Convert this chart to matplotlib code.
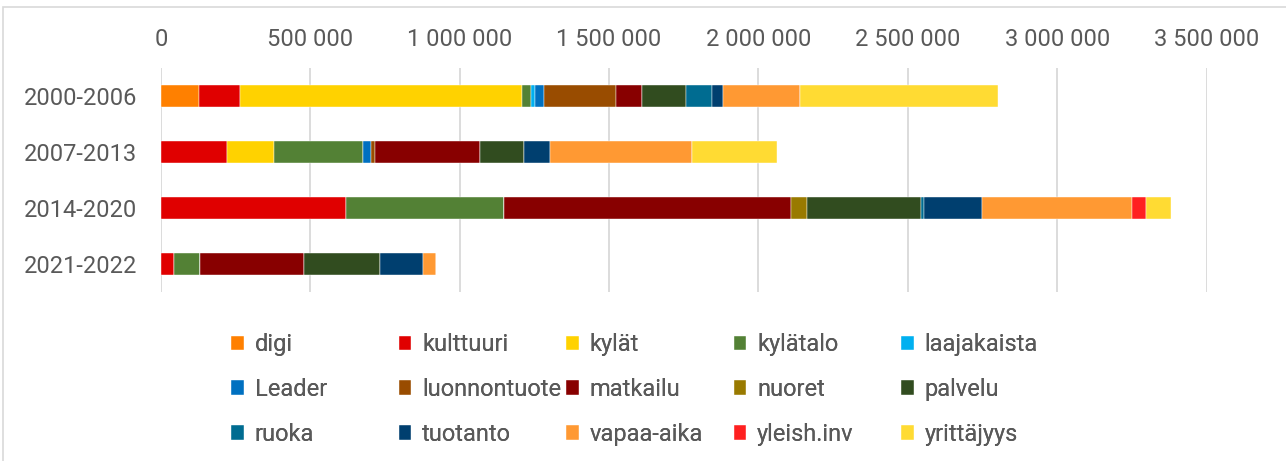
import matplotlib
matplotlib.use("Agg")
import matplotlib.pyplot as plt
from matplotlib.patches import Rectangle
from matplotlib.ticker import FuncFormatter
import numpy as np

plt.rcParams['font.family'] = ['Roboto', 'DejaVu Sans']

periods = ["2000-2006", "2007-2013", "2014-2020", "2021-2022"]
categories = ["digi", "kulttuuri", "kylät", "kylätalo", "laajakaista",
              "Leader", "luonnontuote", "matkailu", "nuoret", "palvelu",
              "ruoka", "tuotanto", "vapaa-aika", "yleish.inv", "yrittäjyys"]
colors = ["#FF8000", "#E00000", "#FFD200", "#538135", "#00B0F0",
          "#0070C0", "#994C00", "#880000", "#997A00", "#314C1F",
          "#006C91", "#003F6F", "#FF9933", "#FF2020", "#FFDB33"]

# values per category, one entry per period
digi =         [128200,      0,      0,      0]
kulttuuri =    [135300, 221000, 619300,  44500]
kylat =        [946100, 157300,      0,      0]
kylatalo =     [ 28100, 298000, 529600,  85000]
laajakaista =  [ 15400,      0,      0,      0]
leader =       [ 28100,  26800,      0,      0]
luonnontuote = [243100,  12400,      0,      0]
matkailu =     [ 87000, 353500, 959800, 349200]
nuoret =       [     0,      0,  53600,      0]
palvelu =      [147300, 147300, 383300, 255400]
ruoka =        [ 85000,      0,   7400,      0]
tuotanto =     [ 36800,  87000, 195800, 143000]
vapaa_aika =   [258800, 473400, 502500,  42500]
yleish_inv =   [     0,      0,  44900,      0]
yrittajyys =   [662900, 285600,  83700,      0]

series = [digi, kulttuuri, kylat, kylatalo, laajakaista, leader, luonnontuote,
          matkailu, nuoret, palvelu, ruoka, tuotanto, vapaa_aika, yleish_inv,
          yrittajyys]

xticks = [0, 500000, 1000000, 1500000, 2000000, 2500000, 3000000, 3500000]

W, H = 1286, 461
fig = plt.figure(figsize=(W / 100, H / 100), dpi=100)
fig.patches.append(Rectangle((3 / W, -0.1), 2, 1.1 - 7 / H, transform=fig.transFigure,
                             fill=False, edgecolor="#D9D9D9", linewidth=1.2))

ax = fig.add_axes([161 / W, 1 - 292 / H, (1206.6 - 161) / W, (292 - 68) / H])
y = np.arange(len(periods))
left = np.zeros(len(periods))
handles = []
for name, vals, col in zip(categories, series, colors):
    vals = np.array(vals, dtype=float)
    b = ax.barh(y, vals, left=left, height=0.41, color=col, label=name,
                edgecolor="white", linewidth=0.3, zorder=3)
    handles.append(b)
    left += vals

ax.set_xlim(0, 3500000)
ax.set_ylim(3.5, -0.5)
ax.set_yticks(y)
ax.set_yticklabels(periods)
ax.set_xticks(xticks)
ax.xaxis.set_major_formatter(FuncFormatter(lambda v, p: f"{int(v):,}".replace(",", " ")))
ax.xaxis.tick_top()
ax.tick_params(axis="x", length=0, pad=12, labelsize=17, labelcolor="#595959")
ax.tick_params(axis="y", length=0, pad=17, labelsize=17, labelcolor="#595959")
for s in ax.spines.values():
    s.set_visible(False)
ax.grid(axis="x", color="#D9D9D9", linewidth=1.3, zorder=0)
ax.set_axisbelow(True)

col_x = [231, 398.5, 566, 733.5, 901]
for c in range(5):
    idx = [c, c + 5, c + 10]
    lg = fig.legend([handles[i] for i in idx], [categories[i] for i in idx],
                    loc="upper left", bbox_to_anchor=(col_x[c] / W, 1 - 333 / H),
                    frameon=False, fontsize=17, handlelength=0.55, handleheight=0.55,
                    handletextpad=0.45, labelspacing=0.93, borderpad=0,
                    borderaxespad=0, labelcolor="#595959")
    fig.add_artist(lg)

fig.savefig("out.png", dpi=100)
